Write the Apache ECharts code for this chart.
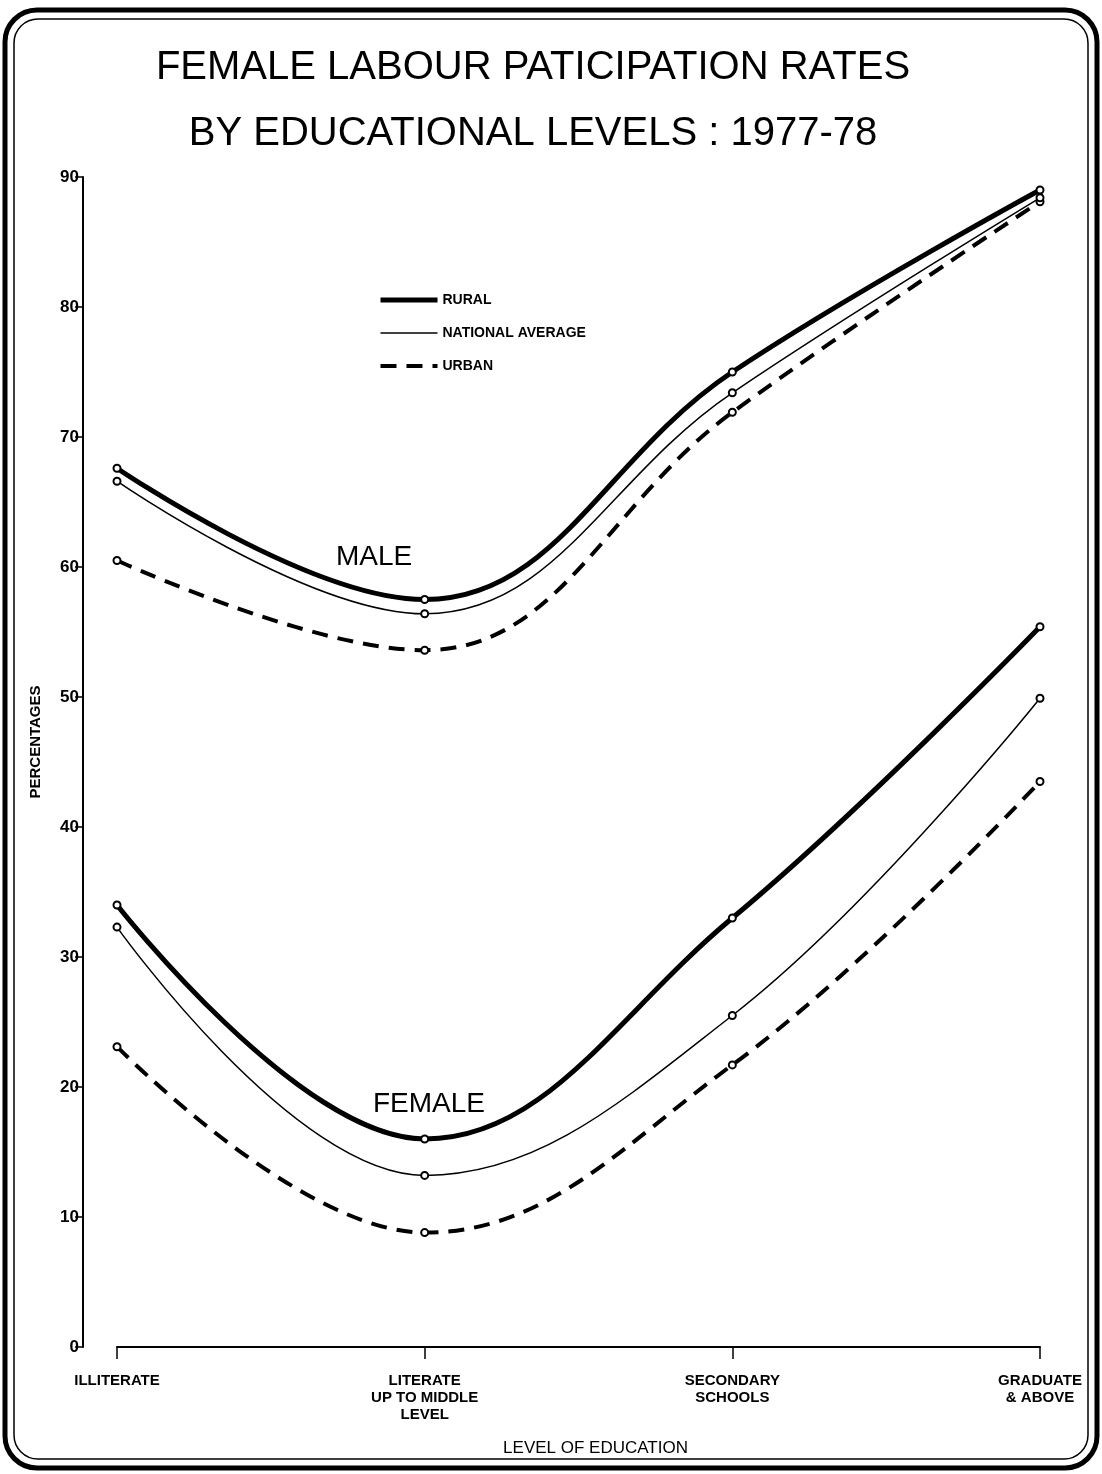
<!DOCTYPE html>
<html><head><meta charset="utf-8">
<script src="https://cdn.jsdelivr.net/npm/echarts@6/dist/echarts.min.js"></script>
<style>html,body{margin:0;padding:0;background:#fff}#c{width:1102px;height:1474px}</style>
</head><body><div id="c"></div>
<script>
const categories = ['ILLITERATE', 'LITERATE\nUP TO MIDDLE\nLEVEL', 'SECONDARY\nSCHOOLS', 'GRADUATE\n& ABOVE'];
const yTicks = [0, 10, 20, 30, 40, 50, 60, 70, 80, 90];
const legendNames = ['RURAL', 'NATIONAL AVERAGE', 'URBAN'];
const maleRural = [67.6, 57.5, 75.0, 89.0];
const maleNational = [66.6, 56.4, 73.4, 88.4];
const maleUrban = [60.5, 53.6, 71.9, 88.1];
const femaleRural = [34.0, 16.0, 33.0, 55.4];
const femaleNational = [32.3, 13.2, 25.5, 49.9];
const femaleUrban = [23.1, 8.8, 21.7, 43.5];

const FONT = 'Liberation Sans';
const chart = echarts.init(document.getElementById('c'));
const styles = {
  'RURAL': {color: '#000', width: 5, type: 'solid'},
  'NATIONAL AVERAGE': {color: '#000', width: 1.5, type: 'solid'},
  'URBAN': {color: '#000', width: 4, type: [16, 10]}
};
function mk(name, data) {
  return {
    name: name, type: 'line', data: data, smooth: 0.4,
    symbol: 'emptyCircle', symbolSize: 7,
    itemStyle: {color: '#000', borderColor: '#000', borderWidth: 1.5},
    lineStyle: styles[name],
    z: name === 'NATIONAL AVERAGE' ? 3 : 2
  };
}
chart.setOption({
  backgroundColor: '#fff',
  animation: false,
  title: {
    text: 'FEMALE LABOUR PATICIPATION RATES\nBY EDUCATIONAL LEVELS : 1977-78',
    left: 528, top: 30, textAlign: 'center',
    textStyle: {fontFamily: FONT, fontSize: 40, fontWeight: 'normal', color: '#000', lineHeight: 66}
  },
  legend: {
    orient: 'vertical', left: 373, top: 288, itemWidth: 57, itemHeight: 14, itemGap: 19,
    data: legendNames.map(n => ({name: n, lineStyle: styles[n]})),
    itemStyle: {opacity: 0},
    textStyle: {fontFamily: FONT, fontSize: 14, color: '#000', fontWeight: 'bold'}
  },
  grid: {left: 117, right: 62, top: 177, bottom: 127},
  xAxis: {
    type: 'category', data: categories, boundaryGap: false, offset: 5,
    axisLine: {lineStyle: {color: '#000', width: 2}},
    axisTick: {show: true, length: 12, lineStyle: {color: '#000', width: 1.5}},
    axisLabel: {color: '#000', fontFamily: FONT, fontSize: 15, lineHeight: 17, margin: 20, interval: 0, fontWeight: 'bold'},
    name: 'LEVEL OF EDUCATION', nameLocation: 'middle', nameGap: 88,
    nameTextStyle: {fontFamily: FONT, fontSize: 17, color: '#000', padding: [0, 0, 0, 34]}
  },
  yAxis: {
    type: 'value', min: 0, max: 90, interval: 10, offset: 34,
    axisLine: {show: true, lineStyle: {color: '#000', width: 2}},
    axisTick: {show: true, length: 8, lineStyle: {color: '#000', width: 1.5}},
    splitLine: {show: false},
    axisLabel: {color: '#000', fontFamily: FONT, fontSize: 17, fontWeight: 'bold', margin: 4,
      formatter: v => yTicks.includes(v) ? String(v) : ''},
    name: 'PERCENTAGES', nameLocation: 'middle', nameGap: 40, nameRotate: 90,
    nameTextStyle: {fontFamily: FONT, fontSize: 15, color: '#000', fontWeight: 'bold', padding: [0, 0, 0, 40]}
  },
  series: [
    mk('RURAL', maleRural), mk('NATIONAL AVERAGE', maleNational), mk('URBAN', maleUrban),
    mk('RURAL', femaleRural), mk('NATIONAL AVERAGE', femaleNational), mk('URBAN', femaleUrban)
  ],
  graphic: [
    {type: 'rect', shape: {x: 5, y: 10, width: 1092, height: 1458, r: 32}, style: {fill: 'none', stroke: '#000', lineWidth: 5}, silent: true},
    {type: 'rect', shape: {x: 14, y: 19, width: 1074, height: 1440, r: 24}, style: {fill: 'none', stroke: '#000', lineWidth: 1.5}, silent: true},
    {type: 'text', left: 336, top: 543, style: {text: 'MALE', font: '28px "Liberation Sans"', fill: '#000'}},
    {type: 'text', left: 373, top: 1090, style: {text: 'FEMALE', font: '28px "Liberation Sans"', fill: '#000'}}
  ]
});
</script></body></html>
